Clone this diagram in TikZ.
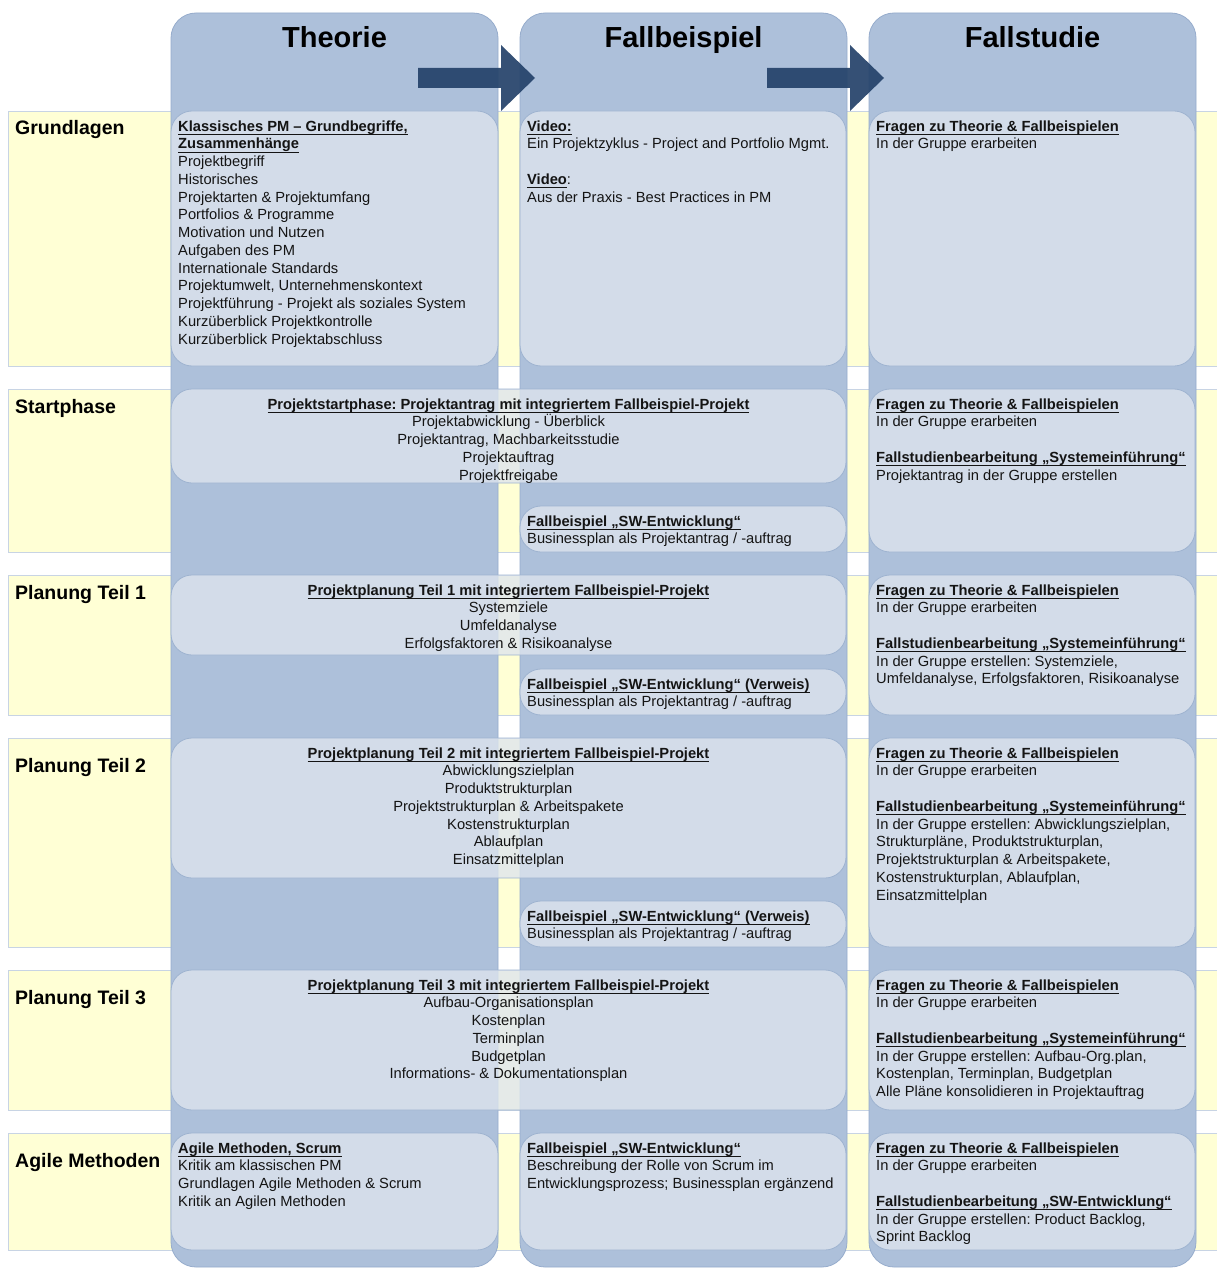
\documentclass[tikz,border=0pt]{standalone}
\usepackage{fontspec}
\setmainfont{Liberation Sans}
\frenchspacing

% underline at a fixed depth below the baseline
\newcommand\undl[1]{\setbox0\hbox{#1}\rlap{\rule[-4pt]{\wd0}{1.2pt}}\box0}
\newcommand\hd[1]{\undl{\textbf{#1}}}
\newcommand\gapline{\\[17.75pt]}

\definecolor{colblue}{RGB}{173,192,218}
\definecolor{colline}{RGB}{150,172,204}
\definecolor{cellfill}{RGB}{222,229,238}
\definecolor{cellline}{RGB}{158,179,208}
\definecolor{bandfill}{RGB}{255,255,213}
\definecolor{bandline}{RGB}{200,212,228}
\definecolor{arrowblue}{RGB}{36,66,106}
\definecolor{inktext}{RGB}{20,20,20}

\tikzset{
  band/.style={rectangle, anchor=north west, inner sep=0pt, outer sep=0pt,
    fill=bandfill, draw=bandline, line width=0.8pt},
  column/.style={rectangle, anchor=north west, inner sep=0pt, outer sep=0pt,
    fill=colblue, draw=colline, line width=0.8pt, rounded corners=25pt,
    minimum width=327pt, minimum height=1254pt},
  cell/.style={rectangle, anchor=north west, inner sep=0pt, outer sep=0pt,
    fill=cellfill, fill opacity=0.78, draw=cellline, line width=0.8pt,
    rounded corners=21pt},
  coltitle/.style={anchor=base, inner sep=0pt, font=\fontsize{29}{34}\selectfont\bfseries},
  rowtitle/.style={anchor=base west, inner sep=0pt, font=\fontsize{19.5}{23}\selectfont\bfseries},
  body/.style={anchor=north west, inner sep=0pt, align=left, text=inktext,
    font=\fontsize{14.7}{17.75}\selectfont, xshift=7pt, yshift=-7.6pt},
  cbody/.style={anchor=north, inner sep=0pt, align=center, text=inktext,
    font=\fontsize{14.7}{17.75}\selectfont, yshift=-7.6pt},
  bigarrow/.style={fill=arrowblue, fill opacity=0.92, draw=none}
}

\begin{document}
\begin{tikzpicture}[x=1pt,y=-1pt]
\useasboundingbox (0,0) rectangle (1216,1268);
\fill[white] (0,0) rectangle (1216,1268);

% horizontal bands, one per phase
\node[band, minimum width=1212pt, minimum height=255pt] (r1) at (8,111) {};
\node[band, minimum width=1212pt, minimum height=163pt] (r2) at (8,389) {};
\node[band, minimum width=1212pt, minimum height=140pt] (r3) at (8,575) {};
\node[band, minimum width=1212pt, minimum height=209pt] (r4) at (8,738) {};
\node[band, minimum width=1212pt, minimum height=140pt] (r5) at (8,970) {};
\node[band, minimum width=1212pt, minimum height=117pt] (r6) at (8,1133) {};

\node[rowtitle] (l1) at ([xshift=7pt,yshift=-24pt]r1.north west) {Grundlagen};
\node[rowtitle] (l2) at ([xshift=7pt,yshift=-24pt]r2.north west) {Startphase};
\node[rowtitle] (l3) at ([xshift=7pt,yshift=-24pt]r3.north west) {Planung Teil 1};
\node[rowtitle] (l4) at ([xshift=7pt,yshift=-34pt]r4.north west) {Planung Teil 2};
\node[rowtitle] (l5) at ([xshift=7pt,yshift=-34pt]r5.north west) {Planung Teil 3};
\node[rowtitle] (l6) at ([xshift=7pt,yshift=-34pt]r6.north west) {Agile Methoden};

% the three vertical columns
\node[column] (cT) at (171,13) {};
\node[column] (cF) at (520,13) {};
\node[column] (cS) at (869,13) {};

\node[coltitle] (tT) at ([yshift=-34.5pt]cT.north) {Theorie};
\node[coltitle] (tF) at ([yshift=-34.5pt]cF.north) {Fallbeispiel};
\node[coltitle] (tS) at ([yshift=-34.5pt]cS.north) {Fallstudie};

% block arrows between the columns
\fill[bigarrow] (418,68) -- (501,68) -- (501,45) -- (535,78) -- (501,111) -- (501,88) -- (418,88) -- cycle;
\fill[bigarrow] (767,68) -- (850,68) -- (850,45) -- (884,78) -- (850,111) -- (850,88) -- (767,88) -- cycle;

% ---- Grundlagen
\node[cell, minimum width=327pt, minimum height=255pt] (g1) at (171,111) {};
\node[cell, minimum width=326pt, minimum height=255pt] (g2) at (520,111) {};
\node[cell, minimum width=326pt, minimum height=255pt] (g3) at (869,111) {};
\node[body] (g1t) at (g1.north west) {\strut\hd{Klassisches PM – Grundbegriffe,}\\\hd{Zusammenhänge}\\Projektbegriff\\Historisches\\Projektarten \& Projektumfang\\Portfolios \& Programme\\Motivation und Nutzen\\Aufgaben des PM\\Internationale Standards\\Projektumwelt, Unternehmenskontext\\Projektführung - Projekt als soziales System\\Kurzüberblick Projektkontrolle\\Kurzüberblick Projektabschluss};
\node[body] (g2t) at (g2.north west) {\strut\hd{Video:}\\Ein Projektzyklus - Project and Portfolio Mgmt.\gapline\hd{Video}:\\Aus der Praxis - Best Practices in PM};
\node[body] (g3t) at (g3.north west) {\strut\hd{Fragen zu Theorie \& Fallbeispielen}\\In der Gruppe erarbeiten};

% ---- Startphase
\node[cell, minimum width=675pt, minimum height=94pt] (s1) at (171,389) {};
\node[cell, minimum width=326pt, minimum height=46pt] (s2) at (520,506) {};
\node[cell, minimum width=326pt, minimum height=163pt] (s3) at (869,389) {};
\node[cbody] (s1t) at (s1.north) {\strut\hd{Projektstartphase: Projektantrag mit integriertem Fallbeispiel-Projekt}\\Projektabwicklung - Überblick\\Projektantrag, Machbarkeitsstudie\\Projektauftrag\\Projektfreigabe};
\node[body] (s2t) at (s2.north west) {\strut\hd{Fallbeispiel „SW-Entwicklung“}\\Businessplan als Projektantrag / -auftrag};
\node[body] (s3t) at (s3.north west) {\strut\hd{Fragen zu Theorie \& Fallbeispielen}\\In der Gruppe erarbeiten\gapline\hd{Fallstudienbearbeitung „Systemeinführung“}\\Projektantrag in der Gruppe erstellen};

% ---- Planung Teil 1
\node[cell, minimum width=675pt, minimum height=80pt] (p1) at (171,575) {};
\node[cell, minimum width=326pt, minimum height=46pt] (p2) at (520,669) {};
\node[cell, minimum width=326pt, minimum height=140pt] (p3) at (869,575) {};
\node[cbody] (p1t) at (p1.north) {\strut\hd{Projektplanung Teil 1 mit integriertem Fallbeispiel-Projekt}\\Systemziele\\Umfeldanalyse\\Erfolgsfaktoren \& Risikoanalyse};
\node[body] (p2t) at (p2.north west) {\strut\hd{Fallbeispiel „SW-Entwicklung“ (Verweis)}\\Businessplan als Projektantrag / -auftrag};
\node[body] (p3t) at (p3.north west) {\strut\hd{Fragen zu Theorie \& Fallbeispielen}\\In der Gruppe erarbeiten\gapline\hd{Fallstudienbearbeitung „Systemeinführung“}\\In der Gruppe erstellen: Systemziele,\\Umfeldanalyse, Erfolgsfaktoren, Risikoanalyse};

% ---- Planung Teil 2
\node[cell, minimum width=675pt, minimum height=140pt] (q1) at (171,738) {};
\node[cell, minimum width=326pt, minimum height=46pt] (q2) at (520,901) {};
\node[cell, minimum width=326pt, minimum height=209pt] (q3) at (869,738) {};
\node[cbody] (q1t) at (q1.north) {\strut\hd{Projektplanung Teil 2 mit integriertem Fallbeispiel-Projekt}\\Abwicklungszielplan\\Produktstrukturplan\\Projektstrukturplan \& Arbeitspakete\\Kostenstrukturplan\\Ablaufplan\\Einsatzmittelplan};
\node[body] (q2t) at (q2.north west) {\strut\hd{Fallbeispiel „SW-Entwicklung“ (Verweis)}\\Businessplan als Projektantrag / -auftrag};
\node[body] (q3t) at (q3.north west) {\strut\hd{Fragen zu Theorie \& Fallbeispielen}\\In der Gruppe erarbeiten\gapline\hd{Fallstudienbearbeitung „Systemeinführung“}\\In der Gruppe erstellen: Abwicklungszielplan,\\Strukturpläne, Produktstrukturplan,\\Projektstrukturplan \& Arbeitspakete,\\Kostenstrukturplan, Ablaufplan,\\Einsatzmittelplan};

% ---- Planung Teil 3
\node[cell, minimum width=675pt, minimum height=140pt] (u1) at (171,970) {};
\node[cell, minimum width=326pt, minimum height=140pt] (u3) at (869,970) {};
\node[cbody] (u1t) at (u1.north) {\strut\hd{Projektplanung Teil 3 mit integriertem Fallbeispiel-Projekt}\\Aufbau-Organisationsplan\\Kostenplan\\Terminplan\\Budgetplan\\Informations- \& Dokumentationsplan};
\node[body] (u3t) at (u3.north west) {\strut\hd{Fragen zu Theorie \& Fallbeispielen}\\In der Gruppe erarbeiten\gapline\hd{Fallstudienbearbeitung „Systemeinführung“}\\In der Gruppe erstellen: Aufbau-Org.plan,\\Kostenplan, Terminplan, Budgetplan\\Alle Pläne konsolidieren in Projektauftrag};

% ---- Agile Methoden
\node[cell, minimum width=327pt, minimum height=117pt] (a1) at (171,1133) {};
\node[cell, minimum width=326pt, minimum height=117pt] (a2) at (520,1133) {};
\node[cell, minimum width=326pt, minimum height=117pt] (a3) at (869,1133) {};
\node[body] (a1t) at (a1.north west) {\strut\hd{Agile Methoden, Scrum}\\Kritik am klassischen PM\\Grundlagen Agile Methoden \& Scrum\\Kritik an Agilen Methoden};
\node[body] (a2t) at (a2.north west) {\strut\hd{Fallbeispiel „SW-Entwicklung“}\\Beschreibung der Rolle von Scrum im\\Entwicklungsprozess; Businessplan ergänzend};
\node[body] (a3t) at (a3.north west) {\strut\hd{Fragen zu Theorie \& Fallbeispielen}\\In der Gruppe erarbeiten\gapline\hd{Fallstudienbearbeitung „SW-Entwicklung“}\\In der Gruppe erstellen: Product Backlog,\\Sprint Backlog};
\end{tikzpicture}
\end{document}
